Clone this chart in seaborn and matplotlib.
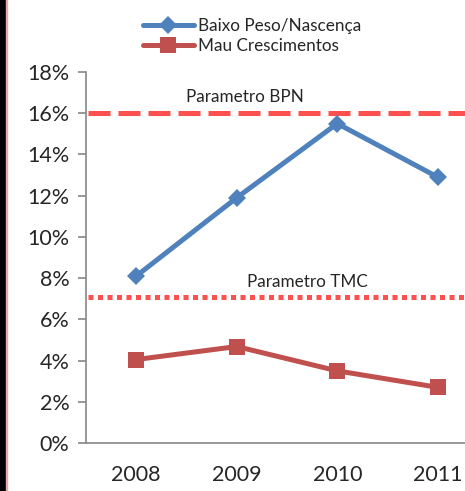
import numpy as np
import pandas as pd
import matplotlib
matplotlib.use("Agg")
import matplotlib.pyplot as plt
import seaborn as sns
from matplotlib.ticker import PercentFormatter
from matplotlib.patches import Rectangle

# data
anos = ["2008", "2009", "2010", "2011"]
baixo_peso = [0.081, 0.119, 0.155, 0.129]
mau_cresc = [0.0405, 0.0468, 0.035, 0.027]
param_bpn = 0.16
param_tmc = 0.071

df = pd.DataFrame({"pos": np.arange(len(anos)), "bpn": baixo_peso, "tmc": mau_cresc})

sns.set_style("white")
plt.rcParams["font.family"] = ["Lato", "DejaVu Sans"]

fig = plt.figure(figsize=(4.65, 4.91), dpi=100)
ax = fig.add_axes([86 / 465, 48 / 491, 402 / 465, 371 / 491])

sns.lineplot(data=df, x="pos", y="bpn", ax=ax, color="#4F81BD", lw=3.6,
             marker="D", markersize=9, markeredgewidth=0, label="Baixo Peso/Nascença")
sns.lineplot(data=df, x="pos", y="tmc", ax=ax, color="#C0504D", lw=3.6,
             marker="s", markersize=12, markeredgewidth=0, label="Mau Crescimentos")

# parametros
ax.axhline(param_bpn, xmin=0.005, color="#FF5050", lw=3.6, ls=(0, (4.4, 1.6)), zorder=1)
ax.axhline(param_tmc, xmin=0.005, color="#FF5050", lw=3.6, ls=(0, (1.0, 0.9)), zorder=1)
ax.text(1.08, 0.168, "Parametro BPN", ha="center", va="center", fontsize=12.3)
ax.text(1.70, 0.078, "Parametro TMC", ha="center", va="center", fontsize=12.3)

ax.set_xlim(-0.5, 3.5)
ax.set_ylim(0, 0.18)
ax.set_yticks(np.arange(0, 0.181, 0.02))
ax.yaxis.set_major_formatter(PercentFormatter(1.0, decimals=0))
ax.set_xticks(range(len(anos)))
ax.set_xticklabels(anos)
ax.set_xticks([-0.5, 0.5, 1.5, 2.5, 3.5], minor=True)
ax.tick_params(axis="x", which="major", length=0, pad=16, labelsize=15.5)
ax.tick_params(axis="x", which="minor", length=6, width=1.2, color="#868686", direction="out")
ax.tick_params(axis="y", length=6, width=1.2, color="#868686", direction="out", pad=6, labelsize=15.5,
               left=True)
ax.set_xlabel("")
ax.set_ylabel("")
for s in ["top", "right"]:
    ax.spines[s].set_visible(False)
for s in ["left", "bottom"]:
    ax.spines[s].set_color("#868686")
    ax.spines[s].set_linewidth(1.2)

leg = ax.legend(loc="center", bbox_to_anchor=(252 / 465, 1 - 36 / 491), bbox_transform=fig.transFigure,
                frameon=False, fontsize=12.3, handlelength=3.0, handletextpad=0.25,
                labelspacing=0.25, borderaxespad=0)

# borda preta a esquerda
fig.patches.append(Rectangle((0, 0), 5 / 465, 1, transform=fig.transFigure, color="black"))
fig.patches.append(Rectangle((6 / 465, 0), 1 / 465, 1, transform=fig.transFigure, color="#E8A8A8"))

fig.savefig("out.png", dpi=100)
